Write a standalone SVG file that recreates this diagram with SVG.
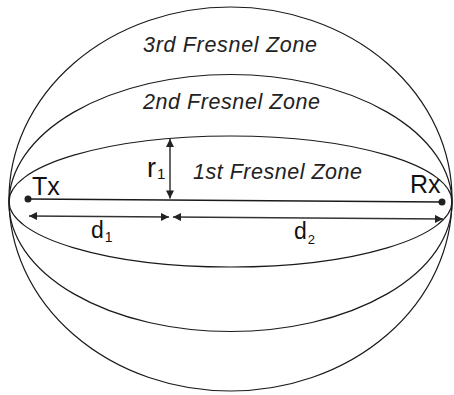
<svg xmlns="http://www.w3.org/2000/svg" width="454" height="395" viewBox="0 0 454 395">
<defs>
<style>
.zone{fill:none;stroke:#1a1a1a;stroke-width:1.2}
.lbl{font-family:"Liberation Sans",Arial,sans-serif;font-style:italic;font-size:21.5px;fill:#222}
.txt{font-family:"Liberation Sans",Arial,sans-serif;fill:#111}
.dim{stroke:#333;stroke-width:1.5;fill:none}
</style>
<marker id="ah" viewBox="0 0 10 10" refX="10" refY="5" markerWidth="10" markerHeight="8" markerUnits="userSpaceOnUse" orient="auto-start-reverse">
<path d="M0,0 L10,5 L0,10 Z" fill="#222"/>
</marker>
</defs>
<rect width="454" height="395" fill="#fff"/>
<g id="zone3"><ellipse class="zone" cx="230.5" cy="199" rx="221.5" ry="192"/>
<text class="lbl" x="143" y="51.5" textLength="174" lengthAdjust="spacing">3rd Fresnel Zone</text></g>
<g id="zone2"><ellipse class="zone" cx="230.5" cy="203" rx="221.5" ry="128.5"/>
<text class="lbl" x="143" y="109" textLength="177" lengthAdjust="spacing">2nd Fresnel Zone</text></g>
<g id="zone1"><ellipse class="zone" cx="230.5" cy="201.5" rx="221.5" ry="65.5"/>
<text class="lbl" x="193" y="179" textLength="169" lengthAdjust="spacing">1st Fresnel Zone</text></g>
<g id="tx"><circle cx="28" cy="199" r="3.5" fill="#222"/>
<text class="txt" x="32" y="194.5" font-size="25">Tx</text></g>
<g id="rx"><circle cx="442" cy="202" r="3.5" fill="#222"/>
<text class="txt" x="410" y="193" font-size="25">Rx</text></g>
<g id="connectors">
<line x1="28" y1="199" x2="442" y2="202" stroke="#1a1a1a" stroke-width="1.5"/>
<line class="dim" x1="170" y1="139" x2="170" y2="198.5" marker-start="url(#ah)" marker-end="url(#ah)"/>
<line class="dim" x1="29" y1="216" x2="169" y2="217" marker-start="url(#ah)" marker-end="url(#ah)"/>
<line class="dim" x1="173" y1="217" x2="443" y2="219" marker-start="url(#ah)" marker-end="url(#ah)"/>
</g>
<g id="r1"><text class="txt" x="147" y="177" font-size="27">r<tspan font-size="15" dx="1" dy="2">1</tspan></text></g>
<g id="d1"><text class="txt" x="91" y="238" font-size="23">d<tspan font-size="14" dx="1" dy="4">1</tspan></text></g>
<g id="d2"><text class="txt" x="294" y="239" font-size="23">d<tspan font-size="13" dx="1" dy="5">2</tspan></text></g>
</svg>
